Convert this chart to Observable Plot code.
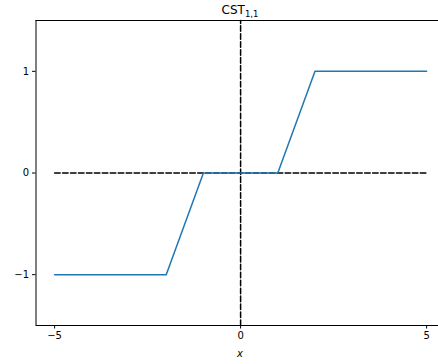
<!DOCTYPE html>
<html>
<head>
<meta charset="utf-8">
<script src="https://cdn.jsdelivr.net/npm/d3@7"></script>
<script src="https://cdn.jsdelivr.net/npm/@observablehq/plot@0.6"></script>
<style>
  html, body { margin: 0; padding: 0; background: #fff; }
  #chart svg { display: block; }
</style>
</head>
<body>
<div id="chart"></div>
<script>
// Data: the CST_{1,1} piecewise-linear function
const xs = [-5, -2, -1, 1, 2, 5];
const ys = [-1, -1, 0, 0, 1, 1];
const xTicks = [-5, 0, 5];
const yTicks = [-1, 0, 1];
const titleMain = "CST";
const titleSub = "1,1";
const xLabel = "x";

const curve = xs.map((x, i) => ({x, y: ys[i]}));
const hDash = [{x: -5, y: 0}, {x: 5, y: 0}];
const vDash = [{x: 0, y: -1.5}, {x: 0, y: 1.5}];

const fmt = d => (d < 0 ? "\u2212" : "") + Math.abs(d);

const plot = Plot.plot({
  width: 438,
  height: 364,
  marginLeft: 35.5,
  marginRight: 0,
  marginTop: 20,
  marginBottom: 39,
  style: {fontFamily: "DejaVu Sans", fontSize: "10px", color: "#000", background: "#fff"},
  x: {domain: [-5.5, 5.32], ticks: xTicks, tickFormat: fmt, tickSize: 3.5, tickPadding: 3, label: null},
  y: {domain: [-1.5, 1.5], ticks: yTicks, tickFormat: fmt, tickSize: 3.5, tickPadding: 3.5, label: null},
  marks: [
    Plot.line(hDash, {x: "x", y: "y", stroke: "black", strokeWidth: 1.5, strokeDasharray: "5.55,2.4"}),
    Plot.line(vDash, {x: "x", y: "y", stroke: "black", strokeWidth: 1.5, strokeDasharray: "5.55,2.4"}),
    Plot.line(curve, {x: "x", y: "y", stroke: "#1f77b4", strokeWidth: 1.5}),
    Plot.ruleX([-5.5], {stroke: "black", strokeWidth: 1}),
    Plot.ruleY([-1.5], {stroke: "black", strokeWidth: 1}),
    Plot.ruleY([1.5], {stroke: "black", strokeWidth: 1}),
    Plot.axisX({ticks: xTicks, tickFormat: fmt, tickSize: 3.5, tickPadding: 3, label: null, fontSize: 10}),
    Plot.axisY({ticks: yTicks, tickFormat: fmt, tickSize: 3.5, tickPadding: 3.5, label: null, fontSize: 10})
  ]
});

document.getElementById("chart").appendChild(plot);

// Title with subscript and italic x-axis label as real SVG text
const svg = d3.select(plot);
const t = svg.append("text")
  .attr("x", 240).attr("y", 14)
  .attr("text-anchor", "middle")
  .attr("font-family", "DejaVu Sans")
  .attr("font-size", 12)
  .attr("fill", "#000");
t.append("tspan").text(titleMain);
t.append("tspan").attr("dy", 3).attr("font-size", 8.5).text(titleSub);

svg.append("text")
  .attr("x", 240).attr("y", 357)
  .attr("text-anchor", "middle")
  .attr("font-family", "DejaVu Sans")
  .attr("font-style", "italic")
  .attr("font-size", 10)
  .attr("fill", "#000")
  .text(xLabel);
</script>
</body>
</html>
